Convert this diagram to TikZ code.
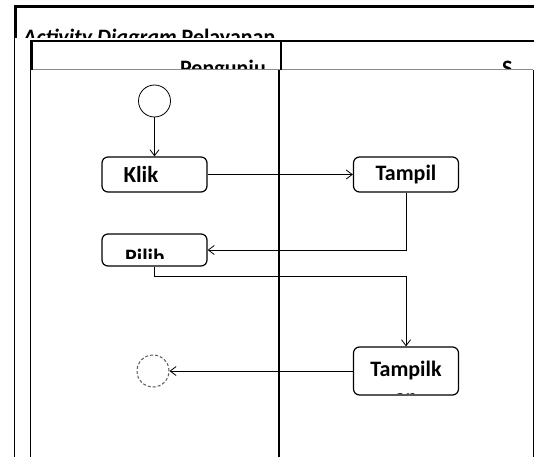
\documentclass[tikz,border=0pt]{standalone}
\usepackage{fontspec}
\setmainfont{Carlito}
\usetikzlibrary{arrows.meta}

\begin{document}
\begin{tikzpicture}[x=1pt,y=-1pt]
\tikzstyle{every node}+=[inner sep=0pt]
\tikzstyle{lbl}=[font=\fontsize{22}{26}\selectfont\bfseries]
\tikzstyle{act}=[draw=black, line width=1.2pt, rounded corners=6pt, minimum width=105pt, minimum height=35pt, fill=white, lbl]
\tikzstyle{flow}=[draw=black, line width=0.8pt, -{Straight Barb[length=6pt,width=9pt]}]
\useasboundingbox (0,0) rectangle (534,457);
\fill [white] (0,0) rectangle (534,457);
\node [lbl, anchor=base west] (title) at (23,45) {\textit{Activity Diagram} Pelayanan};
\fill [white] (16,38) rectangle (534,457);
\draw [black, line width=3pt] (15.5,38) -- (15.5,6.5) -- (534,6.5);
\draw [black, line width=1pt] (14.5,38) -- (14.5,457);
\node [lbl, anchor=base east] (lane1) at (266,76) {Pengunju};
\node [lbl, anchor=base west] (lane2) at (502,76) {S};
\fill [white] (31,70) rectangle (533,457);
\draw [black!45, line width=1pt] (30,70) -- (533,70);
\draw [black, line width=2pt] (30,41) -- (534,41);
\draw [black, line width=3pt] (31.5,40) -- (31.5,70);
\draw [black, line width=1pt] (30,70) -- (30,457);
\draw [black, line width=2pt] (281,40) -- (281,70);
\draw [black, line width=1.2pt] (279,70) -- (279,457);
\draw [black, line width=1pt] (533,70) -- (533,457);
\node [draw, circle, minimum size=32pt, line width=0.8pt] (start) at (154.5,101) {};
\node [act, text width=62pt, align=left, font=\fontsize{23}{27}\selectfont\bfseries] (klik) at (154.5,174.5) {Klik};
\node [act] (tampil) at (406,174.5) {Tampil};
\node [act, minimum height=32pt] (pilih) at (154.5,250) {};
\begin{scope}
\clip (102,234) rectangle (207,258);
\node [lbl, anchor=base west] (pilihtxt) at (125,264) {Pilih};
\end{scope}
\node [act, minimum height=48pt] (tampilk) at (406,371) {Tampilk};
\begin{scope}
\clip (353,347) rectangle (459,393);
\node [lbl, anchor=base] (tampilktxt) at (406,404) {an};
\end{scope}
\node [draw=black!65, circle, densely dashed, minimum size=32pt, line width=1pt] (finish) at (153,371) {};
\draw [flow] (start) -- (klik);
\draw [flow] (klik) -- (tampil);
\draw [flow] (tampil.south) |- (pilih.east);
\draw [flow] (pilih.south) -- ++(0,10) -| (tampilk.north);
\draw [flow] (tampilk) -- (finish);
\end{tikzpicture}
\end{document}
